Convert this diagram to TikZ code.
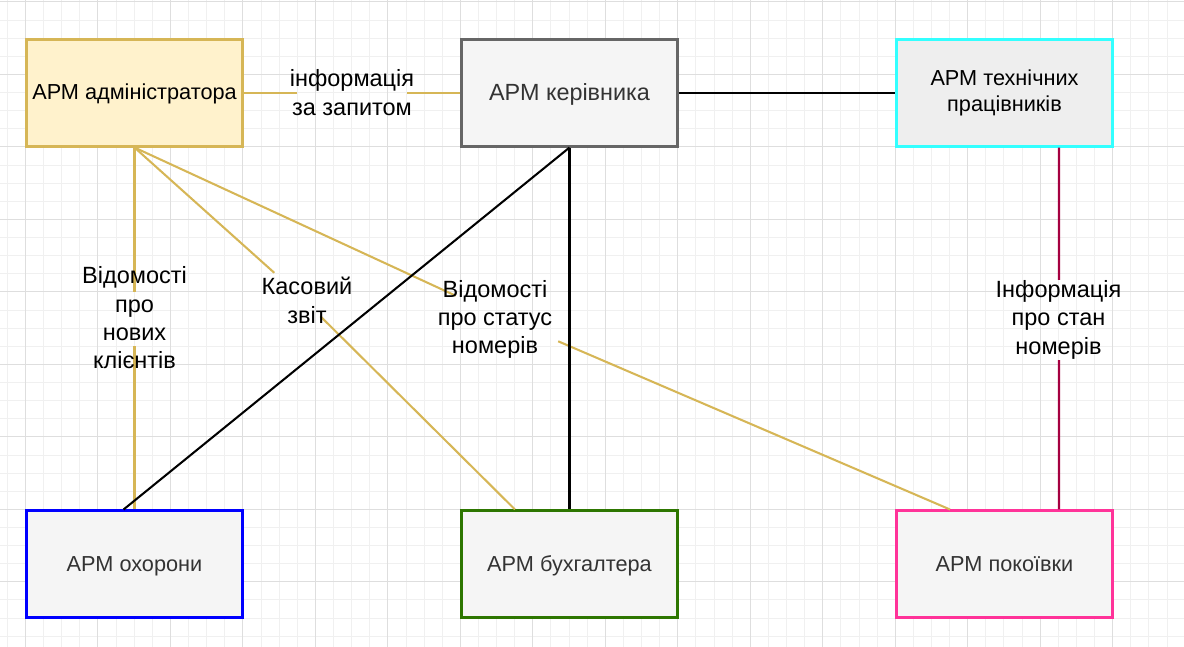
\documentclass[tikz,border=0pt]{standalone}
\usepackage{fontspec}
\setmainfont{Liberation Sans}
\usetikzlibrary{calc}
\definecolor{gold}{HTML}{D6B656}
\definecolor{goldfill}{HTML}{FFF2CC}
\definecolor{lightfill}{HTML}{F5F5F5}
\definecolor{techfill}{HTML}{EEEEEE}
\definecolor{darkgraytext}{HTML}{333333}
\definecolor{kerdraw}{HTML}{666666}
\definecolor{cyanedge}{HTML}{33FFFF}
\definecolor{blueedge}{HTML}{0000FF}
\definecolor{greenedge}{HTML}{2D7600}
\definecolor{pinkedge}{HTML}{FF3399}
\definecolor{crimson}{HTML}{A50040}
\definecolor{gridminor}{HTML}{F0F0F0}
\definecolor{gridmajor}{HTML}{DEDEDE}
\begin{document}
\begin{tikzpicture}[x=1pt,y=-1pt,
  box/.style={draw, line width=2.05pt, minimum width=216pt, minimum height=107pt,
    inner sep=0pt, font=\fontsize{21.7}{26}\selectfont, align=center},
  one/.style={text height=17pt, text depth=3pt},
  gapnode/.style={inner sep=0pt, draw=none, fill=none},
  elabel/.style={font=\fontsize{23.5}{28.3}\selectfont, align=center, inner sep=0pt},
  conn/.style={line width=2.05pt}]
\useasboundingbox (0,0) rectangle (1184,647);
\fill[white] (0,0) rectangle (1184,647);
% grid
\foreach \i in {0,...,65}{\pgfmathsetmacro\xx{7.38+18.12*\i}
  \draw[gridminor, line width=1pt] (\xx,0) -- (\xx,647);}
\foreach \j in {0,...,35}{\pgfmathsetmacro\yy{2+18.12*\j}
  \draw[gridminor, line width=1pt] (0,\yy) -- (1184,\yy);}
\foreach \i in {0,...,16}{\pgfmathsetmacro\xx{25.5+72.48*\i}
  \draw[gridmajor, line width=1pt] (\xx,0) -- (\xx,647);}
\foreach \j in {0,...,8}{\pgfmathsetmacro\yy{2+72.48*\j}
  \draw[gridmajor, line width=1pt] (0,\yy) -- (1184,\yy);}

% boxes
\node[box, one, fill=goldfill, draw=gold] (adm) at (134.5,93) {АРМ адміністратора};
\node[box, fill=lightfill, draw=kerdraw, text=darkgraytext, font=\fontsize{23.4}{28}\selectfont, text height=18pt, text depth=3.5pt] (ker) at (569.5,93) {АРМ керівника};
\node[box, fill=techfill, draw=cyanedge] (tech) at (1004.5,93) {АРМ технічних\\працівників};
\node[box, one, fill=lightfill, draw=blueedge, text=darkgraytext] (ohor) at (134.5,564) {АРМ охорони};
\node[box, one, fill=lightfill, draw=greenedge, text=darkgraytext] (buh) at (569.5,564) {АРМ бухгалтера};
\node[box, one, fill=lightfill, draw=pinkedge, text=darkgraytext] (pok) at (1004.5,564) {АРМ покоївки};

% label gaps
\node[gapnode, minimum width=110pt, minimum height=20pt] (gInfo) at (352,93) {};
\node[gapnode, minimum width=10pt, minimum height=54pt] (gKl) at (134.5,319) {};
\node[gapnode, minimum width=47pt, minimum height=44pt] (gKas) at (298,294) {};
\node[gapnode, minimum width=104pt, minimum height=46pt] (gSt) at (506,319) {};
\node[gapnode, minimum width=10pt, minimum height=80pt] (gTech) at (1059,320) {};

% connectors
\draw[conn, gold] (adm) -- (gInfo) -- (ker);
\draw[conn] (ker) -- (tech);
\draw[conn, gold] (adm.south) -- (gKl) -- (ohor.north);
\draw[conn, gold] (adm.south) -- (gKas) -- ($(buh.north west)!0.25!(buh.north east)$);
\draw[conn, gold] (adm.south) -- (gSt) -- ($(pok.north west)!0.25!(pok.north east)$);
\draw[conn] (ker.south) -- ($(ohor.north west)!0.45!(ohor.north east)$);
\draw[conn] (ker.south) -- (buh.north);
\draw[conn, crimson] ($(tech.south west)!0.75!(tech.south east)$) -- (gTech) -- ($(pok.north west)!0.75!(pok.north east)$);

% edge labels
\node[elabel] (tInfo) at (352,92.5) {інформація\\за запитом};
\node[elabel] (tKl) at (134.5,318) {Відомості\\про\\нових\\клієнтів};
\node[elabel] (tKas) at (307,300.5) {Касовий\\звіт};
\node[elabel] (tSt) at (495,319.3) {Відомості\\про статус\\номерів};
\node[elabel] (tTech) at (1058.5,319.7) {Інформація\\про стан\\номерів};
\end{tikzpicture}
\end{document}
